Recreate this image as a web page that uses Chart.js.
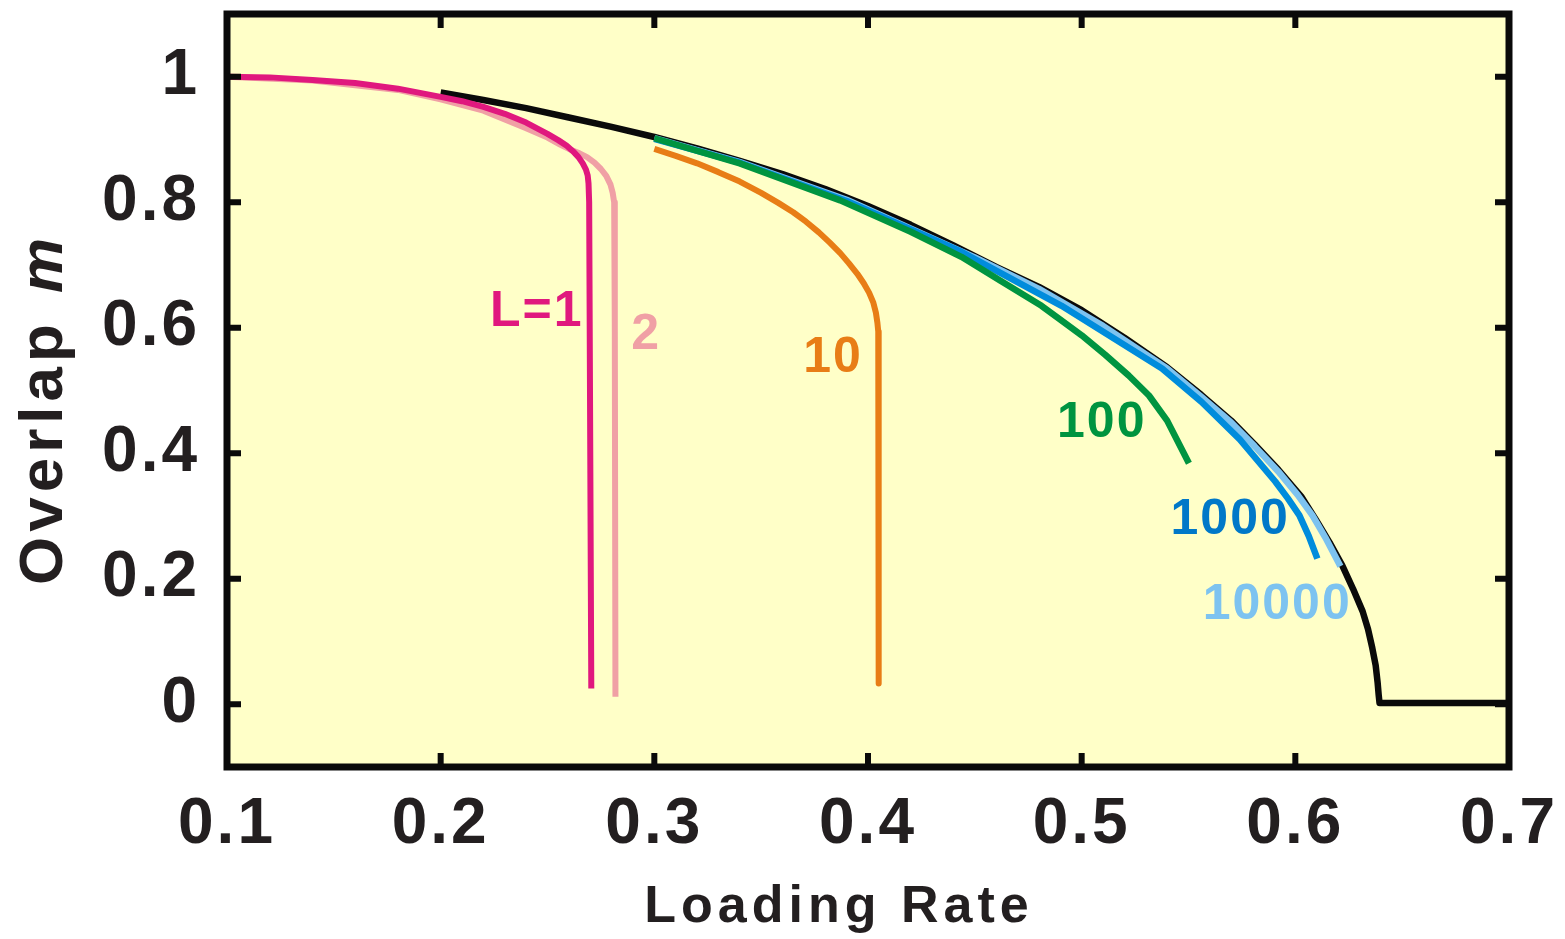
<!DOCTYPE html>
<html>
<head>
<meta charset="utf-8">
<script src="https://cdn.jsdelivr.net/npm/chart.js@4/dist/chart.umd.min.js"></script>
<style>
  html, body { margin: 0; padding: 0; background: #ffffff; }
  canvas { display: block; }
</style>
</head>
<body>
<canvas id="myChart" width="1565" height="939"></canvas>
<script>
// tick values / labels
const xTickValues = [0.1, 0.2, 0.3, 0.4, 0.5, 0.6, 0.7]
const xTickLabels = ['0.1', '0.2', '0.3', '0.4', '0.5', '0.6', '0.7']
const yTickValues = [0, 0.2, 0.4, 0.6, 0.8, 1]
const yTickLabels = ['0', '0.2', '0.4', '0.6', '0.8', '1']

// L = infinity (black)
const xInf = [0.200, 0.220, 0.240, 0.260, 0.280, 0.300, 0.320, 0.340, 0.360, 0.380, 0.400, 0.420, 0.440, 0.460, 0.480, 0.500, 0.520, 0.540, 0.556, 0.570, 0.581, 0.592, 0.603, 0.610, 0.616, 0.622, 0.627, 0.6315, 0.634, 0.636, 0.6376, 0.6385, 0.6390, 0.6394, 0.700]
const yInf = [0.975, 0.963, 0.950, 0.935, 0.920, 0.904, 0.886, 0.866, 0.845, 0.821, 0.794, 0.764, 0.731, 0.697, 0.665, 0.628, 0.584, 0.537, 0.493, 0.452, 0.414, 0.374, 0.330, 0.292, 0.258, 0.221, 0.184, 0.148, 0.120, 0.090, 0.062, 0.035, 0.015, 0.002, 0.002]

// L = 1
const xL1 = [0.100, 0.120, 0.140, 0.160, 0.180, 0.200, 0.210, 0.220, 0.230, 0.240, 0.250, 0.255, 0.259, 0.262, 0.2645, 0.2665, 0.2680, 0.2688, 0.2692, 0.2695, 0.2705]
const yL1 = [1.000, 0.999, 0.995, 0.990, 0.981, 0.968, 0.961, 0.952, 0.941, 0.927, 0.909, 0.899, 0.890, 0.881, 0.872, 0.862, 0.852, 0.843, 0.830, 0.800, 0.025]

// L = 2
const xL2 = [0.100, 0.140, 0.180, 0.200, 0.220, 0.240, 0.250, 0.2559, 0.260, 0.265, 0.2685, 0.272, 0.275, 0.2775, 0.2795, 0.2805, 0.2812, 0.2815, 0.2818]
const yL2 = [1.000, 0.994, 0.979, 0.964, 0.946, 0.918, 0.903, 0.892, 0.885, 0.878, 0.872, 0.863, 0.853, 0.842, 0.828, 0.815, 0.800, 0.600, 0.012]

// L = 10
const xL10 = [0.300, 0.310, 0.320, 0.330, 0.340, 0.350, 0.358, 0.365, 0.371, 0.377, 0.382, 0.387, 0.391, 0.395, 0.398, 0.4005, 0.4025, 0.4037, 0.4044, 0.4048, 0.4050]
const yL10 = [0.885, 0.874, 0.862, 0.848, 0.833, 0.815, 0.799, 0.784, 0.769, 0.752, 0.736, 0.719, 0.703, 0.686, 0.671, 0.656, 0.640, 0.624, 0.608, 0.594, 0.033]

// L = 100
const xL100 = [0.300, 0.340, 0.387, 0.420, 0.4437, 0.462, 0.4812, 0.490, 0.500, 0.511, 0.522, 0.5315, 0.540, 0.5502]
const yL100 = [0.902, 0.862, 0.803, 0.753, 0.713, 0.675, 0.635, 0.613, 0.588, 0.557, 0.524, 0.492, 0.452, 0.384]

// L = 1000
const xL1000 = [0.300, 0.340, 0.390, 0.4437, 0.4906, 0.5376, 0.556, 0.574, 0.5906, 0.5965, 0.6019, 0.6063, 0.6103]
const yL1000 = [0.901, 0.863, 0.802, 0.721, 0.635, 0.535, 0.482, 0.422, 0.355, 0.328, 0.301, 0.268, 0.232]

// L = 10000
const xL10000 = [0.300, 0.340, 0.390, 0.450, 0.480, 0.510, 0.540, 0.556, 0.570, 0.581, 0.592, 0.601, 0.608, 0.614, 0.6211]
const yL10000 = [0.902, 0.864, 0.804, 0.712, 0.662, 0.603, 0.535, 0.490, 0.449, 0.411, 0.371, 0.334, 0.301, 0.266, 0.220]

// curve labels (data coordinates)
const curveNames = ['L=1', '2', '10', '100', '1000', '10000']
const nameX = [0.245, 0.2962, 0.3836, 0.5094, 0.5695, 0.5915]
const nameY = [0.625, 0.588, 0.551, 0.4475, 0.293, 0.158]

const colPink = 'rgb(224, 24, 126)'
const colLightPink = 'rgb(240, 160, 165)'
const colOrange = 'rgb(232, 125, 22)'
const colGreen = 'rgb(0, 148, 64)'
const colBlue = 'rgb(0, 140, 220)'
const colLightBlue = 'rgb(125, 195, 240)'
const nameColors = [colPink, colLightPink, colOrange, colGreen, 'rgb(0, 120, 200)', colLightBlue]

const textColor = '#231f20'
const fontFamily = '"Liberation Sans", Arial, Helvetica, sans-serif'

function pts(xs, ys) {
    return xs.map((x, i) => ({ x: x, y: ys[i] }))
}

function lineSet(label, xs, ys, color, width) {
    return {
        label: label,
        data: pts(xs, ys),
        borderColor: color,
        borderWidth: width,
        pointRadius: 0,
        tension: 0,
        fill: false,
        borderJoinStyle: 'round'
    }
}

const framePlugin = {
    id: 'frame',
    beforeDraw(chart) {
        const { ctx, chartArea: a } = chart
        ctx.save()
        ctx.fillStyle = 'rgb(255, 255, 200)'
        ctx.fillRect(a.left, a.top, a.width, a.height)
        ctx.restore()
        ctx.letterSpacing = '3px'
    },
    afterDatasetsDraw(chart) {
        const ctx = chart.ctx
        const xs = chart.scales.x
        const ys = chart.scales.y
        ctx.save()
        ctx.font = 'bold 50px ' + fontFamily
        ctx.letterSpacing = '2px'
        ctx.textAlign = 'center'
        ctx.textBaseline = 'middle'
        curveNames.forEach((t, i) => {
            ctx.fillStyle = nameColors[i]
            ctx.fillText(t, xs.getPixelForValue(nameX[i]), ys.getPixelForValue(nameY[i]))
        })
        ctx.restore()
    },
    afterDraw(chart) {
        const { ctx, chartArea: a } = chart
        const xs = chart.scales.x
        const ys = chart.scales.y
        ctx.save()
        ctx.strokeStyle = '#0a0a0a'
        ctx.lineWidth = 7
        ctx.strokeRect(a.left, a.top, a.width, a.height)

        // inward ticks on all sides
        ctx.lineWidth = 6
        ctx.beginPath()
        xTickValues.forEach(v => {
            const px = xs.getPixelForValue(v)
            ctx.moveTo(px, a.bottom); ctx.lineTo(px, a.bottom - 14)
            ctx.moveTo(px, a.top); ctx.lineTo(px, a.top + 14)
        })
        yTickValues.forEach(v => {
            const py = ys.getPixelForValue(v)
            ctx.moveTo(a.left, py); ctx.lineTo(a.left + 14, py)
            ctx.moveTo(a.right, py); ctx.lineTo(a.right - 14, py)
        })
        ctx.stroke()

        // axis titles
        ctx.fillStyle = textColor
        ctx.textBaseline = 'alphabetic'
        ctx.textAlign = 'center'
        ctx.font = 'bold 52px ' + fontFamily
        ctx.letterSpacing = '5px'
        ctx.fillText('Loading Rate', 839, 922)

        ctx.translate(62, 585)
        ctx.rotate(-Math.PI / 2)
        ctx.textAlign = 'left'
        ctx.font = 'bold 62px ' + fontFamily
        ctx.fillText('Overlap', 0, 0)
        const w = ctx.measureText('Overlap').width
        ctx.letterSpacing = '0px'
        ctx.font = 'italic bold 62px ' + fontFamily
        ctx.fillText('m', w + 26, 0)
        ctx.restore()
    }
}

const data = {
    datasets: [
        lineSet('L=1', xL1, yL1, colPink, 6),
        lineSet('L=2', xL2, yL2, colLightPink, 6),
        lineSet('L=10', xL10, yL10, colOrange, 6),
        lineSet('L=100', xL100, yL100, colGreen, 6.5),
        lineSet('L=1000', xL1000, yL1000, colBlue, 6.5),
        lineSet('L=10000', xL10000, yL10000, colLightBlue, 6.5),
        lineSet('L=inf', xInf, yInf, '#0a0a0a', 6.5)
    ]
}

const config = {
    type: 'line',
    data: data,
    plugins: [framePlugin],
    options: {
        responsive: false,
        animation: false,
        layout: { padding: { left: 0, top: 14, right: 56, bottom: 0 } },
        plugins: {
            legend: { display: false },
            tooltip: { enabled: false }
        },
        scales: {
            x: {
                type: 'linear',
                min: 0.1,
                max: 0.7,
                grid: { display: false, drawTicks: false },
                border: { display: false },
                afterBuildTicks: (scale) => { scale.ticks = xTickValues.map(v => ({ value: v })) },
                afterFit: (scale) => {
                    scale.height = 172
                    scale.paddingLeft = 0
                    scale.paddingRight = 0
                },
                ticks: {
                    padding: 20,
                    maxRotation: 0,
                    color: textColor,
                    font: { family: fontFamily, size: 64, weight: 'bold' },
                    callback: (value, index) => xTickLabels[index]
                }
            },
            y: {
                type: 'linear',
                min: -0.1,
                max: 1.1,
                grid: { display: false, drawTicks: false },
                border: { display: false },
                afterBuildTicks: (scale) => { scale.ticks = yTickValues.map(v => ({ value: v })) },
                afterFit: (scale) => {
                    scale.width = 227
                    scale.paddingTop = 0
                    scale.paddingBottom = 0
                },
                ticks: {
                    padding: 27,
                    color: textColor,
                    font: { family: fontFamily, size: 64, weight: 'bold' },
                    callback: (value, index) => yTickLabels[index]
                }
            }
        }
    }
}

const ctx = document.getElementById('myChart')
new Chart(ctx, config)
</script>
</body>
</html>
